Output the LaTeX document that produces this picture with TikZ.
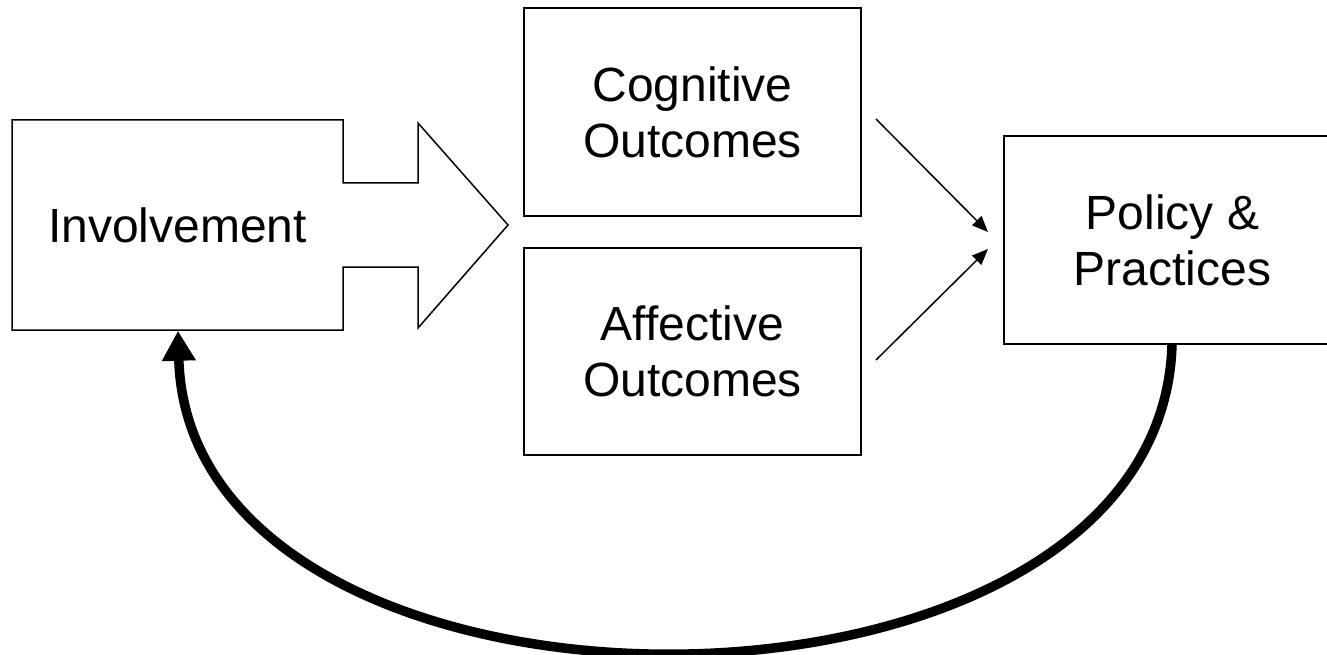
\documentclass[tikz,border=0pt]{standalone}
\usepackage{fontspec}
\setmainfont{Liberation Sans}
\usetikzlibrary{arrows.meta}
\begin{document}
\begin{tikzpicture}[x=1pt,y=-1pt,
  box/.style={draw=black,line width=1.5pt,inner sep=0pt,align=center,
    font=\fontsize{48}{56}\selectfont},
  thin arrow/.style={line width=1.5pt,-{Triangle[length=16pt,width=13pt]}},
  thick arrow/.style={line width=9.5pt,-{Triangle[length=30pt,width=32pt]}}]
\useasboundingbox (0,0) rectangle (1327,655);
% Involvement block arrow
\draw[line width=1.5pt,line join=miter]
  (12,120) -- (343,120) -- (343,183) -- (418,183) -- (418,123) -- (508,225)
  -- (418,328) -- (418,267) -- (343,267) -- (343,330) -- (12,330) -- cycle;
\node[box,draw=none,minimum width=331pt,minimum height=210pt] (inv) at (177.5,225) {Involvement};
\node[box,minimum width=337pt,minimum height=208pt] (cog) at (692.5,112) {Cognitive\\Outcomes};
\node[box,minimum width=337pt,minimum height=207pt] (aff) at (692.5,351.5) {Affective\\Outcomes};
\node[box,minimum width=337pt,minimum height=208pt] (pol) at (1172.5,240) {Policy \&\\Practices};
\coordinate (c1) at (876,119);
\coordinate (c2) at (988,232);
\coordinate (a1) at (876,360);
\coordinate (a2) at (988,249);
\draw[thin arrow] (c1) -- (c2);
\draw[thin arrow] (a1) -- (a2);
\draw[thick arrow] (pol.south west -| 1172,0) .. controls (1160,755) and (190,755) .. (inv.south -| 178,0);
\end{tikzpicture}
\end{document}
